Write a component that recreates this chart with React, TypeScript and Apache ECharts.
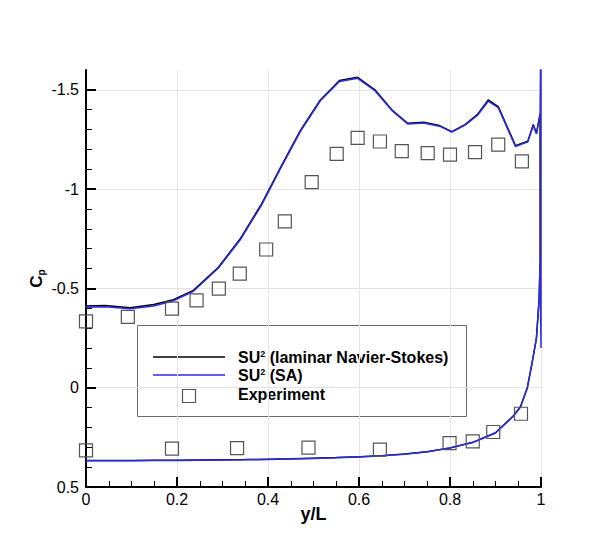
import React, { useEffect, useRef } from 'react';
import * as echarts from 'echarts';

// Lower surface (pressure side), common x stations
const lowerX = [0, 0.05, 0.1, 0.15, 0.2, 0.25, 0.3, 0.35, 0.4, 0.45, 0.5, 0.55, 0.6, 0.65, 0.7, 0.75, 0.8, 0.85, 0.9, 0.94, 0.955, 0.97, 0.98, 0.99, 0.996, 0.998];
const lowerCpLaminar = [0.366, 0.366, 0.366, 0.365, 0.365, 0.364, 0.363, 0.362, 0.36, 0.358, 0.355, 0.352, 0.348, 0.342, 0.334, 0.322, 0.303, 0.275, 0.227, 0.14, 0.095, 0.0, -0.12, -0.25, -0.45, -0.63];
const lowerCpSA = [0.368, 0.368, 0.368, 0.367, 0.366, 0.365, 0.364, 0.363, 0.361, 0.359, 0.356, 0.353, 0.349, 0.343, 0.335, 0.323, 0.304, 0.276, 0.228, 0.142, 0.097, 0.0, -0.12, -0.25, -0.45, -0.63];

// Upper surface (suction side)
const upperX = [0, 0.042, 0.097, 0.149, 0.192, 0.236, 0.291, 0.339, 0.386, 0.43, 0.471, 0.515, 0.557, 0.597, 0.635, 0.672, 0.707, 0.742, 0.777, 0.804, 0.833, 0.86, 0.884, 0.906, 0.944, 0.971, 0.983, 0.99, 0.998];
const upperCpLaminar = [-0.412, -0.414, -0.403, -0.419, -0.443, -0.49, -0.607, -0.75, -0.926, -1.12, -1.295, -1.449, -1.547, -1.563, -1.5, -1.4, -1.332, -1.337, -1.32, -1.29, -1.325, -1.375, -1.449, -1.416, -1.219, -1.241, -1.325, -1.281, -1.379];
const upperCpSA = [-0.405, -0.408, -0.398, -0.412, -0.438, -0.486, -0.603, -0.745, -0.92, -1.115, -1.29, -1.445, -1.542, -1.558, -1.496, -1.397, -1.328, -1.333, -1.317, -1.287, -1.322, -1.371, -1.443, -1.41, -1.215, -1.238, -1.32, -1.278, -1.375];

// Trailing-edge spike of the SA solution
const trailingX = [1.0, 1.0];
const trailingCpSA = [-0.2, -1.9];

// Experiment
const expUpperX = [0.0, 0.092, 0.189, 0.243, 0.292, 0.338, 0.396, 0.437, 0.496, 0.551, 0.597, 0.646, 0.694, 0.751, 0.8, 0.855, 0.906, 0.958];
const expUpperCp = [-0.334, -0.357, -0.398, -0.44, -0.499, -0.575, -0.696, -0.838, -1.035, -1.178, -1.258, -1.24, -1.191, -1.181, -1.174, -1.186, -1.224, -1.14];
const expLowerX = [0.0, 0.189, 0.332, 0.489, 0.646, 0.799, 0.85, 0.895, 0.956];
const expLowerCp = [0.316, 0.307, 0.304, 0.302, 0.312, 0.279, 0.27, 0.223, 0.131];

// Axis ticks
const yMajorTicks = [-1.5, -1, -0.5, 0, 0.5];
const yMinorTicks = [-1.5, -1.4, -1.3, -1.2, -1.1, -1, -0.9, -0.8, -0.7, -0.6, -0.5, -0.4, -0.3, -0.2, -0.1, 0, 0.1, 0.2, 0.3, 0.4, 0.5];

const seriesNames = ['SU{sup|2} (laminar Navier-Stokes)', 'SU{sup|2} (SA)', 'Experiment'];

const FONT = '"Liberation Sans", Arial, Helvetica, sans-serif';

function pairs(xs: number[], ys: number[]) {
  return xs.map((x, i) => [x, ys[i]]);
}

export default function App() {
  const ref = useRef<HTMLDivElement>(null);

  useEffect(() => {
    if (!ref.current) return;
    const chart = echarts.init(ref.current, undefined, { renderer: 'svg' });

    const laminarData = pairs(lowerX, lowerCpLaminar).concat(pairs(upperX, upperCpLaminar).reverse());
    const saData = pairs(lowerX, lowerCpSA)
      .concat(pairs(trailingX, trailingCpSA))
      .concat(pairs(upperX, upperCpSA).reverse());
    const expData = pairs(expUpperX, expUpperCp).concat(pairs(expLowerX, expLowerCp));

    const legendRich = {
      sup: { fontSize: 9, fontWeight: 'bold', fontFamily: FONT, verticalAlign: 'top', fill: '#000' },
    };

    const option: any = {
      animation: false,
      backgroundColor: '#fff',
      grid: { left: 86, right: 69, top: 70, bottom: 57, containLabel: false },
      xAxis: {
        type: 'value',
        min: 0,
        max: 1,
        interval: 0.2,
        axisLine: { show: true, onZero: false, lineStyle: { color: '#000', width: 2 } },
        axisTick: { show: true, inside: true, length: 10, lineStyle: { color: '#000', width: 2 } },
        minorTick: { show: true, splitNumber: 4, length: 6, lineStyle: { color: '#000', width: 1 } },
        axisLabel: { color: '#000', fontSize: 16, fontFamily: FONT, margin: 4 },
        splitLine: { show: true, lineStyle: { color: '#e4e4e4', width: 1 } },
        name: 'y/L',
        nameLocation: 'middle',
        nameGap: 18,
        nameMoveOverlap: false,
        nameTextStyle: { color: '#000', fontSize: 18, fontWeight: 'bold', fontFamily: FONT },
      },
      yAxis: [
        {
          type: 'value',
          inverse: true,
          min: -1.6,
          max: 0.5,
          interval: 0.1,
          position: 'left',
          axisLine: { show: true, onZero: false, lineStyle: { color: '#000', width: 2 } },
          axisTick: { show: true, inside: true, length: 10, customValues: yMajorTicks, lineStyle: { color: '#000', width: 2 } },
          axisLabel: { color: '#000', fontSize: 16, fontFamily: FONT, margin: 7, customValues: yMajorTicks },
          splitLine: { show: true, lineStyle: { color: '#e4e4e4', width: 1 } },
          name: '{c|C}{sub|p}',
          nameLocation: 'middle',
          nameRotate: 90,
          nameGap: 40,
          nameMoveOverlap: false,
          nameTextStyle: {
            color: '#000',
            fontSize: 17,
            fontWeight: 'bold',
            fontFamily: FONT,
            rich: {
              c: { fontSize: 17, fontWeight: 'bold', fontFamily: FONT, color: '#000', lineHeight: 20 },
              sub: { fontSize: 10, fontWeight: 'bold', fontFamily: FONT, color: '#000', verticalAlign: 'bottom', lineHeight: 10 },
            },
          },
        },
        {
          type: 'value',
          inverse: true,
          min: -1.6,
          max: 0.5,
          interval: 0.1,
          position: 'left',
          offset: 0,
          axisLine: { show: false, onZero: false },
          axisTick: { show: true, inside: true, length: 6, customValues: yMinorTicks, lineStyle: { color: '#000', width: 1 } },
          axisLabel: { show: false },
          splitLine: { show: false },
        },
      ],
      series: [
        {
          name: 'laminar',
          type: 'line',
          data: laminarData,
          showSymbol: false,
          symbol: 'none',
          lineStyle: { color: '#000', width: 1.5 },
          z: 3,
        },
        {
          name: 'SA',
          type: 'line',
          data: saData,
          showSymbol: false,
          symbol: 'none',
          lineStyle: { color: '#2b2be6', width: 1.5 },
          z: 4,
        },
        {
          name: 'Experiment',
          type: 'scatter',
          data: expData,
          symbol: 'rect',
          symbolSize: 13,
          itemStyle: { color: 'rgba(255,255,255,0)', borderColor: '#555', borderWidth: 1.2, opacity: 1 },
          z: 5,
        },
      ],
      graphic: [
        {
          type: 'group',
          z: 100,
          children: [
            {
              type: 'rect',
              shape: { x: 137.5, y: 325.5, width: 329, height: 91 },
              style: { fill: '#fff', stroke: '#6a6a6a', lineWidth: 1 },
            },
            { type: 'line', shape: { x1: 153, y1: 357, x2: 225, y2: 357 }, style: { stroke: '#000', lineWidth: 1.5 } },
            { type: 'line', shape: { x1: 153, y1: 375, x2: 225, y2: 375 }, style: { stroke: '#2b2be6', lineWidth: 1.5 } },
            { type: 'rect', shape: { x: 182.5, y: 389.5, width: 13, height: 13 }, style: { fill: '#fff', stroke: '#555', lineWidth: 1.2 } },
            {
              type: 'text', x: 238, y: 357,
              style: { text: seriesNames[0], font: 'bold 16px ' + FONT, fill: '#000', verticalAlign: 'middle', rich: legendRich },
            },
            {
              type: 'text', x: 238, y: 375,
              style: { text: seriesNames[1], font: 'bold 16px ' + FONT, fill: '#000', verticalAlign: 'middle', rich: legendRich },
            },
            {
              type: 'text', x: 238, y: 394,
              style: { text: seriesNames[2], font: 'bold 16px ' + FONT, fill: '#000', verticalAlign: 'middle' },
            },
          ],
        },
      ],
    };

    chart.setOption(option);
    return () => chart.dispose();
  }, []);

  return (
    <div
      ref={ref}
      style={{ position: 'fixed', left: 0, top: 0, width: 610, height: 544, background: '#fff' }}
    />
  );
}
